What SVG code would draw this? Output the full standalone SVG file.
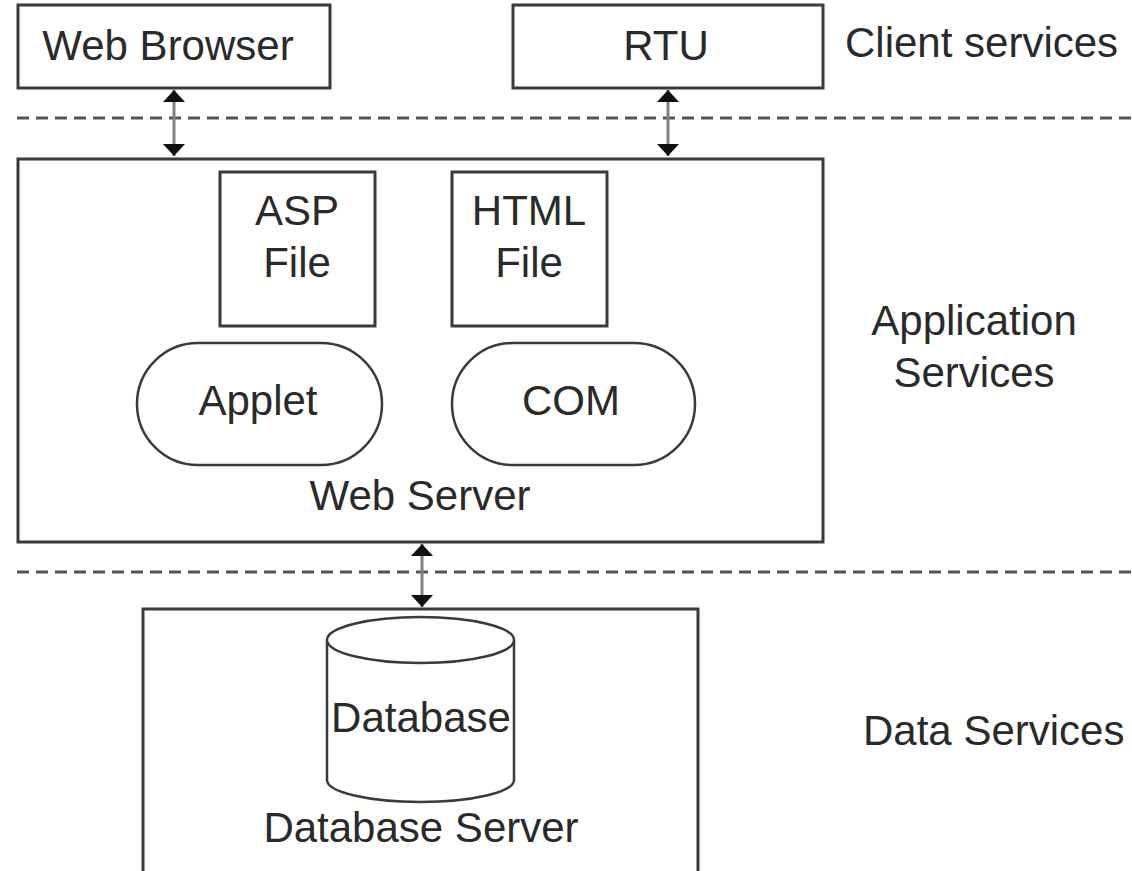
<svg xmlns="http://www.w3.org/2000/svg" width="1132" height="871" viewBox="0 0 1132 871">
<defs>
<style>
.box{fill:#fff;stroke:#3a3a3a;stroke-width:3}
.t{font-family:"Liberation Sans",Arial,sans-serif;font-size:42px;fill:#2a2a2a;text-anchor:middle}
.tl{font-family:"Liberation Sans",Arial,sans-serif;font-size:42px;fill:#2a2a2a}
.dash{stroke:#555;stroke-width:3;stroke-dasharray:12 7;fill:none}
.conn{stroke:#808080;stroke-width:3;fill:none;marker-start:url(#ah);marker-end:url(#ah)}
</style>
<marker id="ah" viewBox="0 0 12 22" refX="12" refY="11" markerWidth="12" markerHeight="22" markerUnits="userSpaceOnUse" orient="auto-start-reverse">
<path d="M0,0 L12,11 L0,22 Z" fill="#111"/>
</marker>
</defs>
<rect width="1132" height="871" fill="#fff"/>
<g id="separators">
<line class="dash" x1="17" y1="118" x2="1132" y2="118"/>
<line class="dash" x1="17" y1="572" x2="1132" y2="572"/>
</g>
<g id="web-browser">
<rect class="box" x="18" y="5" width="312" height="83"/>
<text class="t" x="168" y="60">Web Browser</text>
</g>
<g id="rtu">
<rect class="box" x="513" y="5" width="310" height="83"/>
<text class="t" x="666" y="60">RTU</text>
</g>
<g id="web-server">
<rect class="box" x="18" y="159" width="805" height="383"/>
<text class="t" x="420" y="510">Web Server</text>
</g>
<g id="asp-file">
<rect class="box" x="220" y="172" width="155" height="154"/>
<text class="t" x="297" y="225">ASP</text>
<text class="t" x="297" y="277">File</text>
</g>
<g id="html-file">
<rect class="box" x="452" y="172" width="155" height="154"/>
<text class="t" x="529" y="225">HTML</text>
<text class="t" x="529" y="277">File</text>
</g>
<g id="applet">
<rect class="box" x="137" y="343" width="245" height="122" rx="61" ry="61" style="stroke-width:2.5"/>
<text class="t" x="258" y="415">Applet</text>
</g>
<g id="com">
<rect class="box" x="452" y="343" width="243" height="122" rx="61" ry="61" style="stroke-width:2.5"/>
<text class="t" x="571" y="415">COM</text>
</g>
<g id="database-server">
<path class="box" d="M143,880 L143,609 L698,609 L698,880"/>
<text class="t" x="421" y="842">Database Server</text>
</g>
<g id="database">
<path class="box" d="M327,640 L327,780 A93.5,22 0 0 0 514,780 L514,640" style="stroke-width:2.5"/>
<ellipse class="box" cx="420.5" cy="640" rx="93.5" ry="23" style="stroke-width:2.5"/>
<text class="t" x="421" y="732">Database</text>
</g>
<g id="labels">
<text class="tl" x="845" y="57">Client services</text>
<text class="t" x="974" y="335">Application</text>
<text class="t" x="974" y="387">Services</text>
<text class="tl" x="863" y="745">Data Services</text>
</g>
<g id="connectors">
<line class="conn" x1="174" y1="90" x2="174" y2="156"/>
<line class="conn" x1="668" y1="90" x2="668" y2="156"/>
<line class="conn" x1="422" y1="544" x2="422" y2="607"/>
</g>
</svg>
